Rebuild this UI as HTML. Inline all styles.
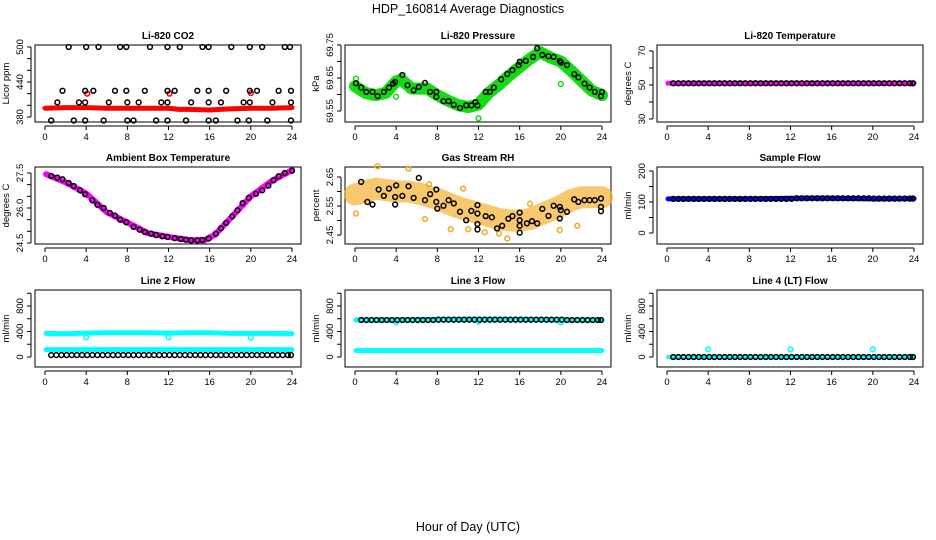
<!DOCTYPE html>
<html><head><meta charset="utf-8">
<style>
html,body{margin:0;padding:0;background:#fff;}
svg{display:block;font-family:"Liberation Sans",sans-serif;}
</style></head>
<body>
<svg id="chart" width="936" height="540" viewBox="0 0 936 540" xmlns="http://www.w3.org/2000/svg">
<text x="468" y="13" text-anchor="middle" font-size="12.5">HDP_160814  Average Diagnostics</text>
<text x="468" y="531" text-anchor="middle" font-size="12.5">Hour of Day (UTC)</text>
</svg>
<script>
// ---- shared x ticks ----
const xTicks = [0,4,8,12,16,20,24];
// half-hour hours for regular black diagnostics
const hh = [0.6,1.1,1.6,2.1,2.6,3.1,3.6,4.1,4.6,5.1,5.6,6.1,6.6,7.1,7.6,8.1,8.6,9.1,9.6,10.1,10.6,11.1,11.6,12.1,12.6,13.1,13.6,14.1,14.6,15.1,15.6,16.1,16.6,17.1,17.6,18.1,18.6,19.1,19.6,20.1,20.6,21.1,21.6,22.1,22.6,23.1,23.6,23.9];

// ---- CO2 ----
const co2BlackHours = [2.3,4.0,5.2,7.3,7.9,10.2,11.9,13.1,15.3,15.9,18.1,19.9,21.1,23.3,23.8, 1.7,3.9,4.7,6.8,7.9,9.7,11.9,12.6,14.8,15.9,17.6,19.9,20.6,22.7,23.9, 1.2,3.3,3.9,6.2,8.0,9.1,11.3,11.9,14.2,15.9,17.1,19.3,19.9,22.1,23.9, 0.6,2.8,3.9,5.7,8.0,8.6,10.8,11.9,13.7,15.9,16.6,18.7,19.8,21.6,23.9];
const co2BlackValues = [500,500,500,500,500,500,500,500,500,500,500,500,500,500,500, 425,425,425,425,425,425,425,425,425,425,425,425,425,425,425, 405,405,405,405,405,405,405,405,405,405,405,405,405,405,405, 374,374,374,374,374,374,374,374,374,374,374,374,374,374,374];
const co2RedHours = [0,2,4,6,8,10,12,13,14,16,17,18,20,22,24];
const co2RedValues = [395,396,396,395,395,395,395,393,393,392,393,394,395,395,396];
const co2RedSpikeHours = [4.1,12.1,20.0];
const co2RedSpikeValues = [420,420,421];

// ---- Pressure ----
const presBlackHours = [0.1,0.6,1.1,1.7,2.2,2.8,3.3,3.7,3.9,4.6,5.1,5.7,6.2,6.8,7.3,7.9,7.9,8.6,9.1,9.6,10.2,10.8,11.3,11.7,11.9,12.7,13.1,13.5,14.2,14.8,15.3,15.9,16.0,16.6,17.3,17.7,18.2,18.8,19.3,19.9,20.0,20.6,21.3,21.7,22.3,22.8,23.3,24.0,23.9];
const presBlackValues = [69.634,69.621,69.608,69.608,69.595,69.608,69.621,69.633,69.638,69.659,69.628,69.613,69.623,69.635,69.608,69.608,69.593,69.580,69.580,69.569,69.559,69.567,69.567,69.577,69.567,69.608,69.608,69.621,69.646,69.662,69.674,69.689,69.699,69.702,69.714,69.740,69.720,69.716,69.714,69.702,69.697,69.689,69.662,69.652,69.633,69.621,69.608,69.608,69.595];
const presGreenHours = [0,1,2,3,4,4.5,5.5,7,8,9,10,11,12,13,14,15,16,17,18,19,20,21,22,23,24];
const presGreenValues = [69.625,69.605,69.598,69.605,69.640,69.645,69.618,69.618,69.598,69.582,69.568,69.562,69.570,69.605,69.630,69.658,69.683,69.708,69.728,69.712,69.700,69.672,69.642,69.612,69.598];
const presGreenOutHours = [4.0,12.0,20.0,0.1];
const presGreenOutValues = [69.593,69.528,69.632,69.648];

// ---- Li-820 Temperature ----
const tempBlackValues = [51,51,51,51,51,51,51,51,51,51,51,51,51,51,51,51,51,51,51,51,51,51,51,51,51,51,51,51,51,51,51,51,51,51,51,51,51,51,51,51,51,51,51,51,51,51,51,51];
const tempMagHours = [0.1,4,8,12,16,20,24];
const tempMagValues = [51,51,51,51,51,51,51];

// ---- Ambient box temperature ----
const ambBlackHours = [0.6,1.2,1.7,2.3,2.8,3.4,3.9,4.6,5.1,5.7,6.3,6.8,7.3,7.9,8.6,9.2,9.7,10.3,10.8,11.4,11.9,12.6,13.2,13.7,14.2,14.8,15.3,15.9,16.6,17.1,17.6,18.2,18.7,19.2,19.8,20.5,21.1,21.7,22.2,22.7,23.3,24.0];
const ambBlackValues = [27.37,27.30,27.23,27.07,26.94,26.76,26.59,26.33,26.14,26.00,25.79,25.67,25.50,25.39,25.19,25.07,24.97,24.90,24.84,24.79,24.76,24.71,24.67,24.64,24.61,24.61,24.63,24.69,24.90,25.13,25.36,25.64,25.90,26.21,26.44,26.61,26.76,26.96,27.19,27.36,27.50,27.60];
const ambMagHours = [0.1,2,4,6,8,10,12,14,15.5,16.5,18,20,22,24];
const ambMagValues = [27.45,27.1,26.62,25.82,25.38,24.92,24.76,24.63,24.62,24.85,25.55,26.5,27.15,27.62];

// ---- Gas stream RH ----
const rhBlackHours = [0.6,1.2,1.7,2.3,2.8,3.3,4.0,3.9,3.9,4.6,5.2,5.7,6.2,6.8,7.3,7.9,7.9,8.0,8.6,9.1,9.6,10.2,10.8,11.3,11.9,11.9,11.9,11.9,12.7,13.3,13.8,14.3,14.9,15.3,16.0,16.0,16.0,16.0,16.7,17.2,17.7,18.2,18.8,19.3,19.9,20.0,19.9,20.6,21.3,21.7,22.3,22.8,23.3,23.9,23.9,23.9];
const rhBlackValues = [2.633,2.564,2.555,2.607,2.585,2.610,2.621,2.581,2.555,2.585,2.618,2.578,2.647,2.570,2.591,2.607,2.564,2.541,2.551,2.570,2.559,2.530,2.501,2.533,2.553,2.524,2.488,2.469,2.515,2.511,2.473,2.482,2.506,2.515,2.527,2.501,2.482,2.458,2.490,2.498,2.490,2.540,2.516,2.551,2.547,2.536,2.507,2.530,2.573,2.564,2.570,2.570,2.570,2.576,2.547,2.532];
const rhOrangeHours = [0,1,2,3,4,5,6,7,8,9,10,11,12,13,14,15,16,17,18,19,20,21,22,23,24];
const rhOrangeValues = [2.59,2.60,2.61,2.605,2.60,2.60,2.595,2.585,2.575,2.56,2.545,2.535,2.525,2.515,2.505,2.50,2.50,2.505,2.52,2.535,2.55,2.57,2.58,2.58,2.58];
const rhOutHours = [0.1,2.2,5.2,6.8,7.2,9.3,10.5,11.0,14.8,17.0,19.9,21.6,12.6,14.0];
const rhOutValues = [2.524,2.687,2.679,2.505,2.625,2.470,2.610,2.470,2.438,2.558,2.467,2.482,2.460,2.455];

// ---- Sample flow ----
const sflowBlackValues = [110,110,110,110,110,110,110,110,110,110,110,110,110,110,110,110,110,110,110,110,110,110,110,110,112,112,112,112,112,112,112,112,112,112,112,112,112,112,112,111,111,111,111,111,111,111,111,111];
const sflowBlueHours = [0.1,4,8,12,16,20,24];
const sflowBlueValues = [110,110,110,112,112,110,111];

// ---- Line 2 flow ----
const l2BlackValues = [30,30,30,30,30,30,30,30,30,30,30,30,30,30,30,30,30,30,30,30,30,30,30,30,30,30,30,30,30,30,30,30,30,30,30,30,30,30,30,30,30,30,30,30,30,30,30,30];
const l2CyanHighHours = [0.1,2,4,6,8,10,12,14,16,18,20,22,24];
const l2CyanHighValues = [370,365,375,380,380,380,375,380,380,370,370,370,365];
const l2CyanLowHours = [0.1,4,8,12,16,20,24];
const l2CyanLowValues = [115,115,115,115,115,115,115];
const l2DipHours = [4.0,12.0,20.0];
const l2DipValues = [310,310,305];

// ---- Line 3 flow ----
const l3BlackValues = [580,580,580,580,580,580,580,580,580,580,580,580,580,580,580,585,585,585,585,585,585,585,585,585,585,585,585,585,585,585,585,585,585,585,585,585,585,585,585,585,580,580,580,580,580,580,580,580];
const l3CyanHighHours = [0.1,4,8,12,16,20,24];
const l3CyanHighValues = [580,580,590,595,590,580,580];
const l3CyanLowHours = [0.1,4,8,12,16,20,24];
const l3CyanLowValues = [100,100,100,100,100,100,100];
const l3DipHours = [4.0,12.0,20.0];
const l3DipValues = [545,555,545];

// ---- Line 4 flow ----
const l4BlackValues = [0,0,0,0,0,0,0,0,0,0,0,0,0,0,0,0,0,0,0,0,0,0,0,0,0,0,0,0,0,0,0,0,0,0,0,0,0,0,0,0,0,0,0,0,0,0,0,0];
const l4CyanHours = [0.1,4,8,12,16,20,24];
const l4CyanValues = [0,0,0,0,0,0,0];
const l4SpikeHours = [4.0,12.0,20.0];
const l4SpikeValues = [120,120,120];

const NS = 'http://www.w3.org/2000/svg';
const svg = document.getElementById('chart');
function mk(tag, attrs, parent){
  const e = document.createElementNS(NS, tag);
  for (const k in attrs) e.setAttribute(k, attrs[k]);
  (parent||svg).appendChild(e);
  return e;
}
const colX = [35,345,657], rowY = [45,167,290], PW = 266, PH = 77;

function panel(name, title, ylab, col, row, ymin, ymax, yTicks, yLabels){
  const g = mk('g', {});
  
  
  const x0 = colX[col], y0 = rowY[row];
  const sx = h => x0 + 10 + h * 247 / 24;
  const sy = v => y0 + PH - (v - ymin) / (ymax - ymin) * PH;
  const box = mk('rect', {x:x0, y:y0, width:PW, height:PH, fill:'none', stroke:'#000', 'stroke-width':1}, g);
  
  
  const t = mk('text', {x:x0+PW/2, y:y0-6, 'text-anchor':'middle', 'font-size':10, 'font-weight':'bold'}, g);
  t.textContent = title;
  
  
  const xa = mk('g', {}, g);
  
  
  const ay = y0 + PH + 4;
  mk('line', {x1:sx(0), x2:sx(24), y1:ay, y2:ay, stroke:'#000'}, xa);
  xTicks.forEach(v => {
    mk('line', {x1:sx(v), x2:sx(v), y1:ay, y2:ay+4, stroke:'#000'}, xa);
    const l = mk('text', {x:sx(v), y:ay+14, 'text-anchor':'middle', 'font-size':9.5}, xa);
    l.textContent = v;
    
    
  });
  const ya = mk('g', {}, g);
  
  
  const ax = x0 - 4;
  mk('line', {x1:ax, x2:ax, y1:sy(yTicks[0]), y2:sy(yTicks[yTicks.length-1]), stroke:'#000'}, ya);
  yTicks.forEach((v,i) => {
    mk('line', {x1:ax, x2:ax-4, y1:sy(v), y2:sy(v), stroke:'#000'}, ya);
    if (yLabels[i] !== '') {
      const l = mk('text', {x:ax-8, y:sy(v), 'text-anchor':'middle', 'font-size':9.5, transform:'rotate(-90 '+(ax-8)+' '+sy(v)+')'}, ya);
      l.textContent = yLabels[i];
      
      
    }
  });
  const yl = mk('text', {x:x0-26, y:y0+PH/2, 'text-anchor':'middle', 'font-size':9.5, transform:'rotate(-90 '+(x0-26)+' '+(y0+PH/2)+')'}, g);
  yl.textContent = ylab;
  
  
  const data = mk('g', {}, g);
  
  
  return {sx, sy, g:data};
}
function band(p, hs, vs, color, w, nm, op){
  const pts = hs.map((h,i)=>p.sx(h)+','+p.sy(vs[i])).join(' ');
  const pl = mk('polyline', {points:pts, fill:'none', stroke:color, 'stroke-width':w, 'stroke-linecap':'round', 'stroke-linejoin':'round', 'stroke-opacity':op||1}, p.g);
  
  
}
function pts(p, hs, vs, color, nm, r){
  hs.forEach((h,i) => {
    const c = mk('circle', {cx:p.sx(h), cy:p.sy(vs[i]), r:r||2.4, fill:'none', stroke:color, 'stroke-width':1.5}, p.g);
    
    
  });
}

let p = panel('co2','Li-820 CO2','Licor ppm',0,0,371.4,503.4,[380,400,420,440,460,480,500],['380','','','440','','','500']);
band(p, co2RedHours, co2RedValues, '#f00', 5, 'co2-red-series');
pts(p, co2RedSpikeHours, co2RedSpikeValues, '#f00', 'co2-red-point');
pts(p, co2BlackHours, co2BlackValues, '#000', 'co2-black-point');

p = panel('pressure','Li-820 Pressure','kPa',1,0,69.5167,69.75,[69.55,69.60,69.65,69.70,69.75],['69.55','','69.65','','69.75']);
band(p, presGreenHours, presGreenValues, '#11dd11', 12, 'pressure-green-series');
pts(p, presGreenOutHours, presGreenOutValues, '#11dd11', 'pressure-green-point');
pts(p, presBlackHours, presBlackValues, '#000', 'pressure-black-point');

p = panel('li820-temp','Li-820 Temperature','degrees C',2,0,28.2,73.5,[30,40,50,60,70],['30','','50','','70']);
band(p, tempMagHours, tempMagValues, '#f0f', 5, 'li820-temp-magenta-series');
pts(p, hh, tempBlackValues, '#000', 'li820-temp-black-point');

p = panel('ambient','Ambient Box Temperature','degrees C',0,1,24.457,27.757,[24.5,25,25.5,26,26.5,27,27.5],['24.5','','','26.0','','','27.5']);
band(p, ambMagHours, ambMagValues, '#f0f', 6, 'ambient-magenta-series');
pts(p, ambBlackHours, ambBlackValues, '#000', 'ambient-black-point');

p = panel('rh','Gas Stream RH','percent',1,1,2.419,2.6845,[2.45,2.50,2.55,2.60,2.65],['2.45','','2.55','','2.65']);
band(p, rhOrangeHours, rhOrangeValues, '#f5b030', 22, 'rh-orange-series', 0.7);
pts(p, rhOutHours, rhOutValues, '#f5a623', 'rh-orange-point');
pts(p, rhBlackHours, rhBlackValues, '#000', 'rh-black-point');

p = panel('sample-flow','Sample Flow','ml/min',2,1,-35.5,212.9,[0,50,100,150,200],['0','','100','','200']);
band(p, sflowBlueHours, sflowBlueValues, '#00f', 5, 'sample-flow-blue-series');
pts(p, hh, sflowBlackValues, '#000', 'sample-flow-black-point');

p = panel('line2-flow','Line 2 Flow','ml/min',0,2,-157,1051,[0,200,400,600,800,1000],['0','','400','','800','']);
band(p, l2CyanHighHours, l2CyanHighValues, '#0ff', 5, 'line2-cyan-high-series');
band(p, l2CyanLowHours, l2CyanLowValues, '#0ff', 5, 'line2-cyan-low-series');
pts(p, l2DipHours, l2DipValues, '#0ff', 'line2-cyan-point');
pts(p, hh, l2BlackValues, '#000', 'line2-black-point');

p = panel('line3-flow','Line 3 Flow','ml/min',1,2,-157,1051,[0,200,400,600,800,1000],['0','','400','','800','']);
band(p, l3CyanHighHours, l3CyanHighValues, '#0ff', 5, 'line3-cyan-high-series');
band(p, l3CyanLowHours, l3CyanLowValues, '#0ff', 5, 'line3-cyan-low-series');
pts(p, l3DipHours, l3DipValues, '#0ff', 'line3-cyan-point');
pts(p, hh, l3BlackValues, '#000', 'line3-black-point');

p = panel('line4-flow','Line 4 (LT) Flow','ml/min',2,2,-157,1051,[0,200,400,600,800,1000],['0','','400','','800','']);
band(p, l4CyanHours, l4CyanValues, '#0ff', 4, 'line4-cyan-series');
pts(p, l4SpikeHours, l4SpikeValues, '#0ff', 'line4-cyan-point');
pts(p, hh, l4BlackValues, '#000', 'line4-black-point');
</script>
</body></html>
